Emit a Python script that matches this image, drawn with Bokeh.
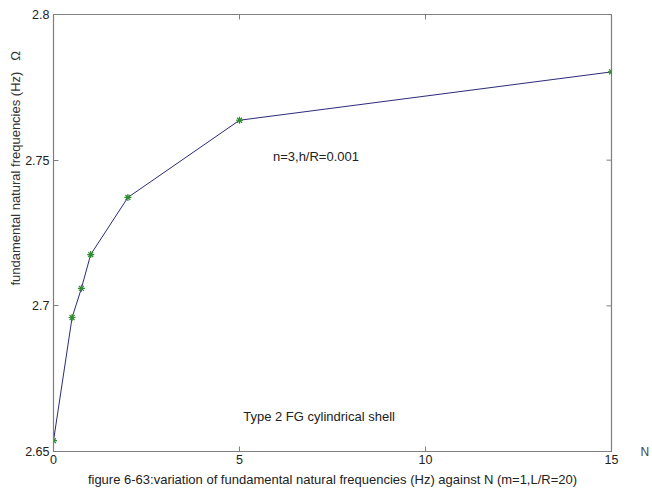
import math
from bokeh.plotting import figure
from bokeh.models import Label, Range1d, FixedTicker, Title, LinearAxis
from bokeh.embed import file_html
from bokeh.resources import INLINE

# data
N_values = [0, 0.5, 0.75, 1, 2, 5, 15]
freq_values = [2.6537, 2.6960, 2.7060, 2.7176, 2.7372, 2.7637, 2.7803]
x_ticks = [0, 5, 10, 15]
y_ticks = [2.65, 2.7, 2.75, 2.8]
y_tick_labels = {2.65: "2.65", 2.7: "2.7", 2.75: "2.75", 2.8: "2.8"}

FONT = "Liberation Sans"

p = figure(width=652, height=493, output_backend="svg", toolbar_location=None,
           x_range=Range1d(0, 15), y_range=Range1d(2.65, 2.8),
           x_axis_label="figure 6-63:variation of fundamental natural frequencies (Hz) against N (m=1,L/R=20)",
           min_border_left=53, min_border_right=40, min_border_top=14, min_border_bottom=42)

p.grid.visible = False
p.outline_line_color = "#7f7f7f"
p.outline_line_width = 1.2

for ax in p.xaxis:
    ax.ticker = FixedTicker(ticks=x_ticks)
    ax.minor_tick_line_color = None
    ax.major_tick_in = 5
    ax.major_tick_out = 0
    ax.major_tick_line_color = "#7f7f7f"
    ax.axis_line_color = "#7f7f7f"
    ax.major_label_text_font = FONT
    ax.major_label_text_font_size = "12.5px"
    ax.major_label_text_color = "#222222"
    ax.major_label_standoff = 3
    ax.axis_label_text_font = FONT
    ax.axis_label_text_font_size = "13px"
    ax.axis_label_text_font_style = "normal"
    ax.axis_label_text_color = "#222222"
    ax.axis_label_standoff = 5

for ax in p.yaxis:
    ax.ticker = FixedTicker(ticks=y_ticks)
    ax.major_label_overrides = y_tick_labels
    ax.minor_tick_line_color = None
    ax.major_tick_in = 5
    ax.major_tick_out = 0
    ax.major_tick_line_color = "#7f7f7f"
    ax.axis_line_color = "#7f7f7f"
    ax.major_label_text_font = FONT
    ax.major_label_text_font_size = "12.5px"
    ax.major_label_text_color = "#222222"
    ax.major_label_standoff = 4

# y-axis title, placed like the original (shifted towards the top)
ytitle = Title(text="fundamental natural frequencies (Hz)" + "\u00a0" * 3 + "Ω",
               align="left", offset=166, text_font=FONT, text_font_size="13px",
               text_font_style="normal", text_color="#333333", standoff=0)
p.add_layout(ytitle, "left")

# "N" at the far right, level with the x axis
n_axis = LinearAxis(ticker=FixedTicker(ticks=[2.65]), major_label_overrides={2.65: "N"},
                    major_tick_in=0, major_tick_out=0, minor_tick_line_color=None,
                    axis_line_color=None, major_label_standoff=29,
                    major_label_text_font=FONT, major_label_text_font_size="12px",
                    major_label_text_color="#444444")
p.add_layout(n_axis, "right")

# inward tick marks on the top and right frame edges (half of each dash is clipped)
p.scatter(x_ticks, [2.8] * len(x_ticks), marker="dash", size=10, angle=math.pi / 2,
          line_color="#7f7f7f", line_width=1)
p.scatter([15] * len(y_ticks), y_ticks, marker="dash", size=10, angle=0,
          line_color="#7f7f7f", line_width=1)

p.line(N_values, freq_values, line_color="#2b2b7a", line_width=1)
p.scatter(N_values, freq_values, marker="asterisk", size=7, line_color="#2e8b2e", line_width=1.2)

p.add_layout(Label(x=5.9, y=2.7514, text="n=3,h/R=0.001", text_font=FONT,
                   text_font_size="13px", text_color="#222222", text_baseline="middle"))
p.add_layout(Label(x=5.1, y=2.662, text="Type 2 FG cylindrical shell", text_font=FONT,
                   text_font_size="13px", text_color="#222222", text_baseline="middle"))

open("out.html", "w").write(file_html(p, INLINE))
